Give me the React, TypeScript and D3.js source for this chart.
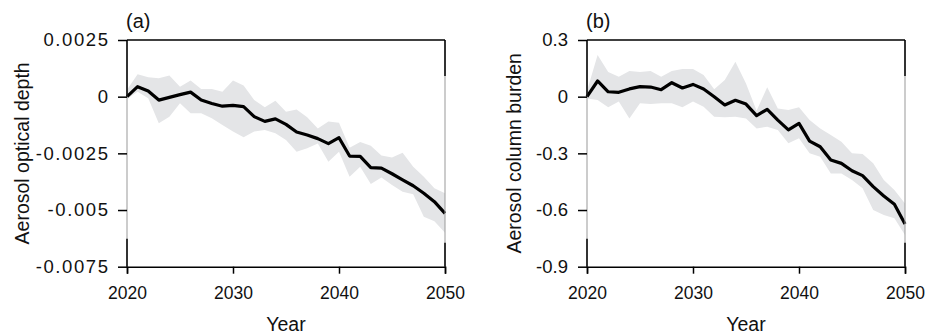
import React, { useEffect, useRef } from 'react';
import * as d3 from 'd3';

// years on the x axis
const years = [
  2020, 2021, 2022, 2023, 2024, 2025, 2026, 2027, 2028, 2029, 2030,
  2031, 2032, 2033, 2034, 2035, 2036, 2037, 2038, 2039, 2040,
  2041, 2042, 2043, 2044, 2045, 2046, 2047, 2048, 2049, 2050,
];
const xTicks = [2020, 2030, 2040, 2050];

// (a) aerosol optical depth anomaly
const aodMean = [
  0, 0.00044, 0.00025, -0.00015, -0.00003, 0.00009, 0.0002, -0.00015, -0.0003, -0.00042, -0.00038,
  -0.00044, -0.00088, -0.00109, -0.00098, -0.00122, -0.00156, -0.00169, -0.00185, -0.00207, -0.00181,
  -0.00262, -0.00263, -0.00313, -0.00315, -0.0034, -0.00367, -0.00393, -0.00426, -0.00463, -0.00515,
];
const aodUpper = [
  0.0003, 0.00099, 0.00086, 0.00081, 0.00093, 0.00044, 0.00071, 0.00034, 0.00034, 0.00022, 0.00071,
  0.00049, -0.00015, -0.00047, -0.00018, -0.00066, -0.00057, -0.00091, -0.0014, -0.0011, -0.00115,
  -0.00225, -0.002, -0.00217, -0.0026, -0.00268, -0.00247, -0.00309, -0.00353, -0.00404, -0.00426,
];
const aodLower = [
  -0.0001, 0.00022, -0.00007, -0.00117, -0.00088, -0.00029, -0.00073, -0.00073, -0.00095, -0.00125, -0.00154,
  -0.00179, -0.00154, -0.00147, -0.00161, -0.00191, -0.00243, -0.00228, -0.00206, -0.00287, -0.00243,
  -0.00353, -0.00309, -0.00385, -0.00357, -0.0039, -0.00419, -0.0043, -0.0053, -0.0055, -0.006,
];
const aodTicks = [0.0025, 0, -0.0025, -0.005, -0.0075];
const aodTickLabels = ['0.0025', '0', '-0.0025', '-0.005', '-0.0075'];

// (b) aerosol column burden anomaly
const burdenMean = [
  0, 0.083, 0.026, 0.023, 0.041, 0.053, 0.051, 0.037, 0.074, 0.046, 0.065,
  0.041, 0, -0.044, -0.019, -0.039, -0.1, -0.067, -0.124, -0.176, -0.141,
  -0.235, -0.265, -0.335, -0.353, -0.392, -0.418, -0.476, -0.526, -0.57, -0.674,
];
const burdenUpper = [
  0.03, 0.22, 0.13, 0.106, 0.136, 0.13, 0.136, 0.106, 0.136, 0.146, 0.146,
  0.115, 0.039, 0.088, 0.185, 0.07, -0.074, 0.05, -0.062, -0.071, -0.056,
  -0.124, -0.168, -0.203, -0.238, -0.3, -0.303, -0.353, -0.441, -0.494, -0.565,
];
const burdenLower = [
  -0.01, -0.018, -0.056, -0.026, -0.115, -0.035, -0.039, -0.035, -0.035, -0.056, -0.026,
  -0.053, -0.106, -0.109, -0.106, -0.115, -0.168, -0.159, -0.176, -0.247, -0.22,
  -0.3, -0.318, -0.406, -0.406, -0.441, -0.485, -0.6, -0.626, -0.644, -0.732,
];
const burdenTicks = [0.3, 0, -0.3, -0.6, -0.9];
const burdenTickLabels = ['0.3', '0', '-0.3', '-0.6', '-0.9'];

const FONT = '"Liberation Sans", Arial, Helvetica, sans-serif';
const TOP = 40;
const BOTTOM = 266.7;

type PanelProps = {
  left: number;
  right: number;
  tag: string;
  title: string;
  titleX: number;
  tickSpacing: number;
  domain: [number, number];
  ticks: number[];
  tickLabels: string[];
  mean: number[];
  upper: number[];
  lower: number[];
};

const Panel = (p: PanelProps) => {
  const gRef = useRef<SVGGElement>(null);

  useEffect(() => {
    const g = d3.select(gRef.current);
    g.selectAll('*').remove();

    const x = d3.scaleLinear().domain([2020, 2050]).range([p.left, p.right]);
    const y = d3.scaleLinear().domain(p.domain).range([BOTTOM, TOP]);

    // spread band
    const band = d3.area<number>()
      .x((d, i) => x(years[i]))
      .y0((d, i) => y(p.lower[i]))
      .y1((d) => y(d));
    g.append('path')
      .datum(p.upper)
      .attr('d', band)
      .attr('fill', '#e4e5e7');

    // mean line
    const line = d3.line<number>()
      .x((d, i) => x(years[i]))
      .y((d) => y(d));
    g.append('path')
      .datum(p.mean)
      .attr('d', line)
      .attr('fill', 'none')
      .attr('stroke', '#000')
      .attr('stroke-width', 3.2)
      .attr('stroke-linejoin', 'round');

    // frame: side lines fade to grey in the middle, like the original
    const sides = [
      { xv: p.left, a: y(p.ticks[1]), b: BOTTOM - 28 },
      { xv: p.right, a: TOP + 36, b: BOTTOM - 24 },
    ];
    sides.forEach((s) => {
      g.append('line')
        .attr('x1', s.xv).attr('x2', s.xv)
        .attr('y1', TOP).attr('y2', BOTTOM)
        .attr('stroke', '#999').attr('stroke-width', 1);
      g.append('line')
        .attr('x1', s.xv).attr('x2', s.xv)
        .attr('y1', TOP).attr('y2', s.a)
        .attr('stroke', '#000').attr('stroke-width', 1.5);
      g.append('line')
        .attr('x1', s.xv).attr('x2', s.xv)
        .attr('y1', s.b).attr('y2', BOTTOM)
        .attr('stroke', '#000').attr('stroke-width', 1.5);
    });
    g.append('line')
      .attr('x1', p.left).attr('x2', p.right)
      .attr('y1', TOP).attr('y2', TOP)
      .attr('stroke', '#000').attr('stroke-width', 1.5);

    // x axis
    const xAxis = g.append('g')
      .attr('transform', `translate(0,${BOTTOM})`)
      .call(d3.axisBottom(x).tickValues(xTicks).tickFormat(d3.format('d')).tickSize(7).tickPadding(13));
    xAxis.select('.domain').attr('stroke-width', 1.5);
    xAxis.selectAll('.tick line').attr('stroke-width', 1.5);
    xAxis.selectAll('text')
      .attr('font-family', FONT)
      .attr('font-size', 17.5)
      .attr('fill', '#111');

    // y axis (ticks only, the side line is drawn above)
    const yAxis = g.append('g')
      .attr('transform', `translate(${p.left},0)`)
      .call(d3.axisLeft(y).tickValues(p.ticks)
        .tickFormat((d, i) => p.tickLabels[i]).tickSize(9).tickPadding(10));
    yAxis.select('.domain').remove();
    yAxis.selectAll('.tick line').attr('stroke-width', 1.5);
    yAxis.selectAll('text')
      .attr('font-family', FONT)
      .attr('font-size', 18.5)
      .attr('letter-spacing', p.tickSpacing)
      .attr('dx', p.tickSpacing)
      .attr('fill', '#111');

    // labels
    g.append('text')
      .attr('x', (p.left + p.right) / 2)
      .attr('y', 331)
      .attr('text-anchor', 'middle')
      .attr('font-family', FONT)
      .attr('font-size', 19.5)
      .attr('fill', '#111')
      .text('Year');

    g.append('text')
      .attr('transform', `translate(${p.titleX},${(TOP + BOTTOM) / 2}) rotate(-90)`)
      .attr('text-anchor', 'middle')
      .attr('font-family', FONT)
      .attr('font-size', 19.5)
      .attr('fill', '#111')
      .text(p.title);

    g.append('text')
      .attr('x', p.left - 1)
      .attr('y', 28)
      .attr('font-family', FONT)
      .attr('font-size', 20)
      .attr('fill', '#111')
      .text(p.tag);
  }, [p]);

  return <g ref={gRef} />;
};

export default function App() {
  return (
    <svg
      width={937}
      height={335}
      style={{ position: 'absolute', left: 0, top: 0, background: '#fff' }}
    >
      <Panel
        left={127}
        right={445}
        tag="(a)"
        title="Aerosol optical depth"
        titleX={29}
        tickSpacing={1.6}
        domain={[-0.0075, 0.0025]}
        ticks={aodTicks}
        tickLabels={aodTickLabels}
        mean={aodMean}
        upper={aodUpper}
        lower={aodLower}
      />
      <Panel
        left={587}
        right={905}
        tag="(b)"
        title="Aerosol column burden"
        titleX={521}
        tickSpacing={0}
        domain={[-0.9, 0.3]}
        ticks={burdenTicks}
        tickLabels={burdenTickLabels}
        mean={burdenMean}
        upper={burdenUpper}
        lower={burdenLower}
      />
    </svg>
  );
}
